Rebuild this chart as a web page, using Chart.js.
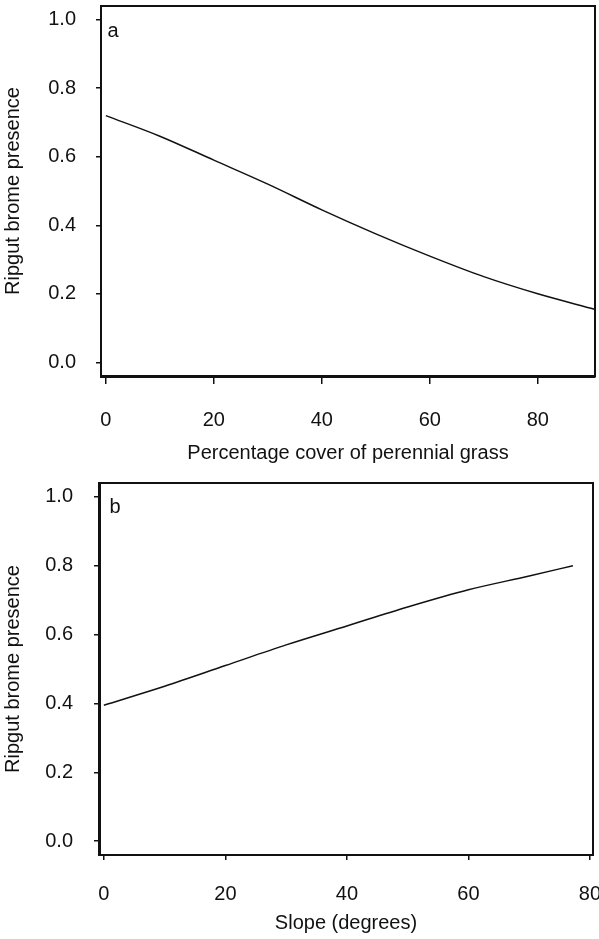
<!DOCTYPE html>
<html>
<head>
<meta charset="utf-8">
<script src="https://cdn.jsdelivr.net/npm/chart.js@4.4.1/dist/chart.umd.min.js"></script>
<style>
  html, body { margin: 0; padding: 0; background: #fff; }
  #wrap { position: relative; width: 599px; height: 939px; }
  canvas { position: absolute; left: 0; }
</style>
</head>
<body>
<div id="wrap">
  <canvas id="chartA" width="599" height="470" style="top:0"></canvas>
  <canvas id="chartB" width="599" height="469" style="top:470px"></canvas>
</div>
<script>
// panel a: cover of perennial grass
var coverX = [0, 10, 20, 30, 40, 50, 60, 70, 80, 90.5];
var coverY = [0.72, 0.66, 0.59, 0.52, 0.445, 0.375, 0.31, 0.25, 0.2, 0.155];
var coverTicks = [0, 20, 40, 60, 80];

// panel b: slope
var slopeX = [0, 10, 20, 30, 40, 50, 60, 70, 77.2];
var slopeY = [0.395, 0.45, 0.51, 0.57, 0.625, 0.68, 0.73, 0.77, 0.8];
var slopeTicks = [0, 20, 40, 60, 80];

var yTicks = [0, 0.2, 0.4, 0.6, 0.8, 1.0];
var yTitle = 'Ripgut brome presence';

var FONT = "'Liberation Sans', Arial, sans-serif";
var INK = '#111';

// box round the plot + panel letter
var boxPlugin = {
    id: 'box',
    afterDraw: function(chart, args, opts) {
        var a = chart.chartArea, ctx = chart.ctx;
        ctx.save();
        ctx.strokeStyle = INK;
        ctx.lineWidth = 2;
        ctx.strokeRect(a.left, a.top, a.right - a.left, a.bottom - a.top);
        ctx.fillStyle = INK;
        ctx.font = '20px ' + FONT;
        ctx.textAlign = 'center';
        ctx.textBaseline = 'middle';
        ctx.fillText(opts.letter, a.left + opts.dx, a.top + opts.dy);
        ctx.restore();
    }
};

// no extra room for labels hanging over the plot edges
function noPad(s) {
    s.paddingTop = 0; s.paddingBottom = 0; s.paddingLeft = 0; s.paddingRight = 0;
}

function makePanel(id, xs, ys, xTicks, xMin, xMax, xTitle, p) {
    var pts = xs.map(function(x, i) { return {x: x, y: ys[i]}; });
    var ctx = document.getElementById(id).getContext('2d');
    return new Chart(ctx, {
        type: 'line',
        data: {
            datasets: [{
                data: pts,
                borderColor: INK,
                borderWidth: 1.5,
                pointRadius: 0,
                fill: false,
                cubicInterpolationMode: 'monotone'
            }]
        },
        plugins: [boxPlugin],
        options: {
            responsive: false,
            animation: false,
            layout: { padding: { top: p.top, right: p.right, left: 0, bottom: 0 } },
            plugins: {
                legend: { display: false },
                tooltip: { enabled: false },
                box: { letter: p.letter, dx: p.dx, dy: p.dy }
            },
            scales: {
                x: {
                    type: 'linear',
                    min: xMin,
                    max: xMax,
                    afterFit: function(s) { s.height = p.xHeight; noPad(s); },
                    afterBuildTicks: function(s) { s.ticks = xTicks.map(function(v) { return {value: v}; }); },
                    grid: { drawOnChartArea: false, drawTicks: true, tickLength: p.xTick, color: INK, lineWidth: 1.5 },
                    border: { display: true, color: INK, width: p.xBorder },
                    ticks: { color: INK, font: { family: FONT, size: 20 }, padding: p.xPad, maxRotation: 0,
                        callback: function(v) { return String(v); } },
                    title: { display: true, text: xTitle, color: INK, font: { family: FONT, size: 20 },
                        padding: { top: 0, bottom: p.titlePad } }
                },
                y: {
                    type: 'linear',
                    min: -0.04,
                    max: 1.04,
                    afterFit: function(s) { s.width = p.yWidth; noPad(s); },
                    afterBuildTicks: function(s) { s.ticks = yTicks.map(function(v) { return {value: v}; }); },
                    grid: { drawOnChartArea: false, drawTicks: true, tickLength: 5, color: INK, lineWidth: 1.5 },
                    border: { display: true, color: INK, width: p.yBorder },
                    ticks: { color: INK, font: { family: FONT, size: 20 }, padding: p.yPad,
                        callback: function(v) { return Number(v).toFixed(1); } },
                    title: { display: true, text: yTitle, color: INK, font: { family: FONT, size: 20 },
                        padding: { top: 1, bottom: 0 } }
                }
            }
        }
    });
}

makePanel('chartA', coverX, coverY, coverTicks, -0.9, 90.6, 'Percentage cover of perennial grass', {
    top: 6, right: 4, xHeight: 94, yWidth: 101, xTick: 8, xPad: 24, yPad: 20,
    xBorder: 3, yBorder: 2, titlePad: 5, letter: 'a', dx: 12, dy: 25
});

makePanel('chartB', slopeX, slopeY, slopeTicks, -0.8, 80.5, 'Slope (degrees)', {
    top: 13, right: 6, xHeight: 84, yWidth: 99, xTick: 5, xPad: 22, yPad: 21,
    xBorder: 2, yBorder: 3, titlePad: 4, letter: 'b', dx: 16, dy: 24
});
</script>
</body>
</html>
